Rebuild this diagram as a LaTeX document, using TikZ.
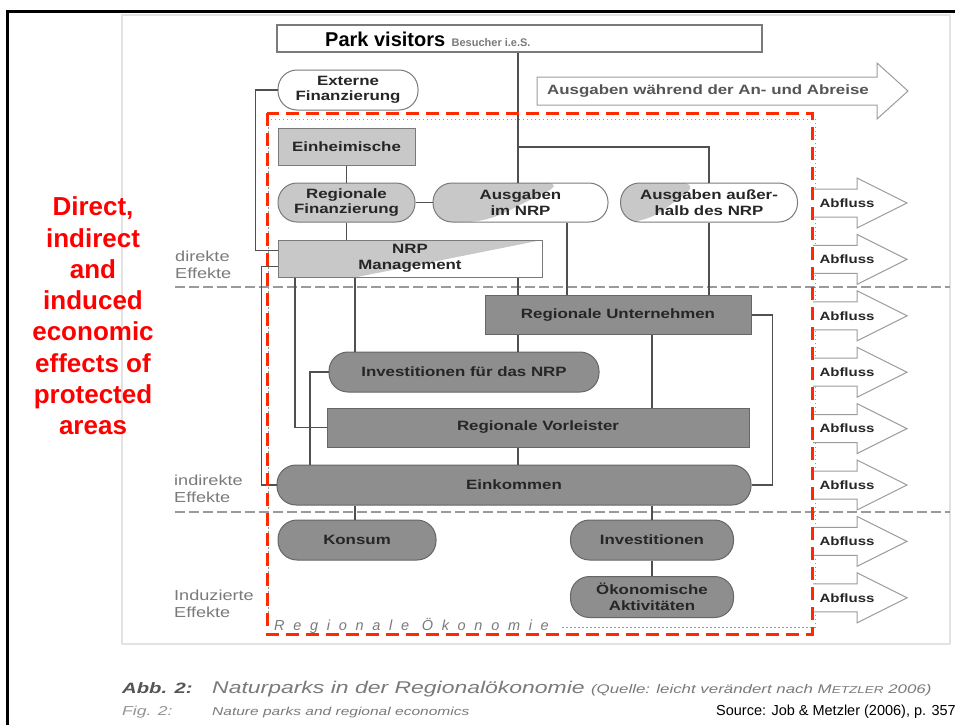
\documentclass[tikz,border=0pt]{standalone}
\usepackage{fontspec}
\setmainfont{Liberation Sans}
\newfontfamily\scanfont[FakeStretch=1.25]{Liberation Sans}
\newfontfamily\capfont[FakeStretch=1.35]{Liberation Sans}
\newfontfamily\okofont[LetterSpace=60]{Liberation Sans}
\usetikzlibrary{calc}
\definecolor{boxlight}{HTML}{C8C8C8}
\definecolor{boxdark}{HTML}{8E8E8E}
\definecolor{boxline}{HTML}{7A7A7A}
\definecolor{boxdarkline}{HTML}{666666}
\definecolor{boxtext}{HTML}{262626}
\definecolor{linkgray}{HTML}{505050}
\definecolor{sepgray}{HTML}{9A9A9A}
\definecolor{arrowgray}{HTML}{9C9C9C}
\definecolor{scangray}{HTML}{7A7A7A}
\definecolor{capgray}{HTML}{555555}
\definecolor{scanframe}{HTML}{E2E2E2}
\definecolor{markred}{HTML}{FF2A00}

\begin{document}
\begin{tikzpicture}[x=1pt,y=-1pt,
  every node/.append style={inner sep=0pt},
  box/.style={draw=boxline,line width=1pt,align=center,text=boxtext,
    font=\scanfont\bfseries\fontsize{13.5}{15.5}\selectfont},
  lightbox/.style={box,fill=boxlight},
  darkbox/.style={box,fill=boxdark,draw=boxdarkline},
  pill/.style={rounded corners=19pt},
  halfgray/.style 2 args={fill=white,path picture={
    \fill[boxlight] (path picture bounding box.north west)
      -- ($(path picture bounding box.north west)!#1!(path picture bounding box.north east)$)
      -- ($(path picture bounding box.south west)!#2!(path picture bounding box.south east)$)
      -- (path picture bounding box.south west) -- cycle;}},
  link/.style={draw=linkgray,line width=1.6pt},
  effsep/.style={draw=sepgray,line width=1.2pt,dash pattern=on 10pt off 4pt},
  okoline/.style={draw=sepgray,line width=1pt,dash pattern=on 1.5pt off 2.5pt},
  outflow/.style={draw=arrowgray,fill=white,line width=1pt},
  flowtext/.style={text=boxtext,font=\scanfont\bfseries\fontsize{13.5}{15.5}\selectfont},
  effect/.style={anchor=west,align=left,text=scangray,font=\scanfont\fontsize{14.5}{17}\selectfont}]
\useasboundingbox (0,0) rectangle (955,724);
\fill[white] (0,0) rectangle (955,724);
\draw[scanframe,line width=1.5pt] (122,15) rectangle (950,644);
\draw[line width=3pt] (7,730) -- (7,11) -- (960,11);

\draw[effsep] (175,287) -- (950,287);
\draw[effsep] (175,512) -- (950,512);
\draw[okoline] (562,627) -- (815,627) -- (815,119) -- (268,119) -- (268,627);
\node[anchor=west,text=scangray,font=\okofont\itshape\fontsize{14.5}{16}\selectfont] (oekotitle) at (274,626) {Regionale Ökonomie};

\draw[outflow] (537,77) -- (877,77) -- (877,63) -- (908,91) -- (877,119) -- (877,105) -- (537,105) -- cycle;
\node[flowtext,text=capgray] (anabreise) at (708,91) {Ausgaben während der An- und Abreise};
\foreach \y [count=\i] in {203,259.4,315.8,372.2,428.6,485,541.4,597.8}{
  \draw[outflow] (813,\y-14) -- (857,\y-14) -- (857,\y-25) -- (907,\y) -- (857,\y+25) -- (857,\y+14) -- (813,\y+14);
  \node[flowtext,font=\scanfont\bfseries\fontsize{12}{14}\selectfont] (abfluss\i) at (847,\y) {Abfluss};
}

\node[box,line width=1.4pt,fill=white,minimum width=485pt,minimum height=27pt] (visitors) at (519.5,38.5) {};
\node[anchor=west,font=\bfseries\fontsize{20}{22}\selectfont] (parkvis) at (325,39) {Park visitors};
\node[anchor=base west,text=scangray,font=\bfseries\fontsize{11}{12}\selectfont] (besucher) at ([xshift=6pt]parkvis.base east) {Besucher i.e.S.};

\node[box,pill,fill=white,minimum width=140pt,minimum height=40pt] (externe) at (348,90) {Externe\\Finanzierung};
\node[lightbox,minimum width=137pt,minimum height=37pt] (einheim) at (346.5,146.5) {Einheimische};
\node[lightbox,pill,minimum width=137pt,minimum height=39pt] (regfin) at (346.5,202.5) {Regionale\\Finanzierung};
\node[box,pill,halfgray={0.75}{0.3},minimum width=175pt,minimum height=39pt] (ausgnrp) at (520.5,202.5) {Ausgaben\\im NRP};
\node[box,pill,halfgray={0.45}{0.15},minimum width=177pt,minimum height=39pt] (ausgaus) at (709,202.5) {Ausgaben außer-\\halb des NRP};
\node[box,halfgray={1}{0.3},minimum width=264pt,minimum height=37pt] (nrpmgmt) at (410,258.5) {NRP\\Management};
\node[darkbox,minimum width=266pt,minimum height=39pt] (unt) at (618,315) {Regionale Unternehmen};
\node[darkbox,pill,minimum width=270pt,minimum height=40pt] (invnrp) at (464,372) {Investitionen für das NRP};
\node[darkbox,minimum width=422pt,minimum height=39pt] (vorl) at (538,427.5) {Regionale Vorleister};
\node[darkbox,pill,minimum width=474pt,minimum height=40pt] (eink) at (514,485) {Einkommen};
\node[darkbox,pill,minimum width=158pt,minimum height=40pt] (konsum) at (357,540) {Konsum};
\node[darkbox,pill,minimum width=163pt,minimum height=40pt] (invest) at (652,540) {Investitionen};
\node[darkbox,pill,minimum width=163pt,minimum height=41pt] (oeko) at (652,597) {Ökonomische\\Aktivitäten};

\coordinate (xa) at (518,0);
\coordinate (xb) at (567,0);
\coordinate (xc) at (355,0);
\coordinate (xd) at (295,0);
\coordinate (xe) at (652,0);
\coordinate (xf) at (310,0);
\coordinate (fork) at (518,147);

\draw[link] (visitors.south -| xa) -- (ausgnrp.north -| xa);
\draw[link] (fork) -| (ausgaus.north);
\draw[link] (ausgaus.south) -- (ausgaus.south |- unt.north);
\draw[link] (externe.west) -- ++(-22,0) |- ([yshift=8pt]nrpmgmt.west);
\draw[link] ([yshift=-8pt]nrpmgmt.west) -- ++(-16,0) |- (eink.west);
\draw[link] (einheim.south) -- (regfin.north);
\draw[link] (regfin.south) -- (regfin.south |- nrpmgmt.north);
\draw[link] (regfin.east) -- (ausgnrp.west);
\draw[link] (ausgnrp.south -| xb) -- (unt.north -| xb);
\draw[link] (nrpmgmt.south -| xa) -- (unt.north -| xa);
\draw[link] (nrpmgmt.south -| xc) -- (invnrp.north -| xc);
\draw[link] (nrpmgmt.south -| xd) |- (vorl.west);
\draw[link] (unt.south -| xa) -- (invnrp.north -| xa);
\draw[link] (unt.south -| xe) -- (vorl.north -| xe);
\draw[link] (unt.east) -- ++(21,0) |- (eink.east);
\draw[link] (invnrp.west) -| (xf |- eink.north);
\draw[link] (vorl.south -| xa) -- (eink.north -| xa);
\draw[link] (eink.south -| xc) -- (konsum.north -| xc);
\draw[link] (eink.south -| xe) -- (invest.north -| xe);
\draw[link] (invest.south) -- (oeko.north);

\node[effect] (direkt) at (175,265) {direkte\\Effekte};
\node[effect] (indirekt) at (174,489) {indirekte\\Effekte};
\node[effect] (induziert) at (174,604) {Induzierte\\Effekte};

\draw[markred,line width=3pt,dash pattern=on 13pt off 7pt] (267,113) rectangle (812,634);

\node[text=red,align=center,font=\bfseries\fontsize{26}{31.3}\selectfont] (effects) at (93,316) {Direct,\\indirect\\and\\induced\\economic\\effects of\\protected\\areas};

\node[anchor=base west,text=capgray,font=\capfont\bfseries\itshape\fontsize{15}{17}\selectfont] (abb) at (122,693) {Abb. 2:};
\node[anchor=base west,text=scangray,font=\capfont\itshape\fontsize{17}{19}\selectfont] (captionde) at (212,693) {Naturparks in der Regionalökonomie {\fontsize{12.5}{14}\selectfont(Quelle: leicht verändert nach M{\fontsize{10}{12}\selectfont ETZLER} 2006)}};
\node[anchor=base west,text=scangray!80,font=\capfont\itshape\fontsize{13}{15}\selectfont] (fig) at (122,715) {Fig. 2:};
\node[anchor=base west,text=scangray,font=\capfont\itshape\fontsize{11.5}{13}\selectfont] (captionen) at (212,715) {Nature parks and regional economics};
\node[anchor=base east,font=\fontsize{14.5}{16}\selectfont] (source) at (956,715) {Source: Job \& Metzler (2006), p. 357};
\end{tikzpicture}
\end{document}
